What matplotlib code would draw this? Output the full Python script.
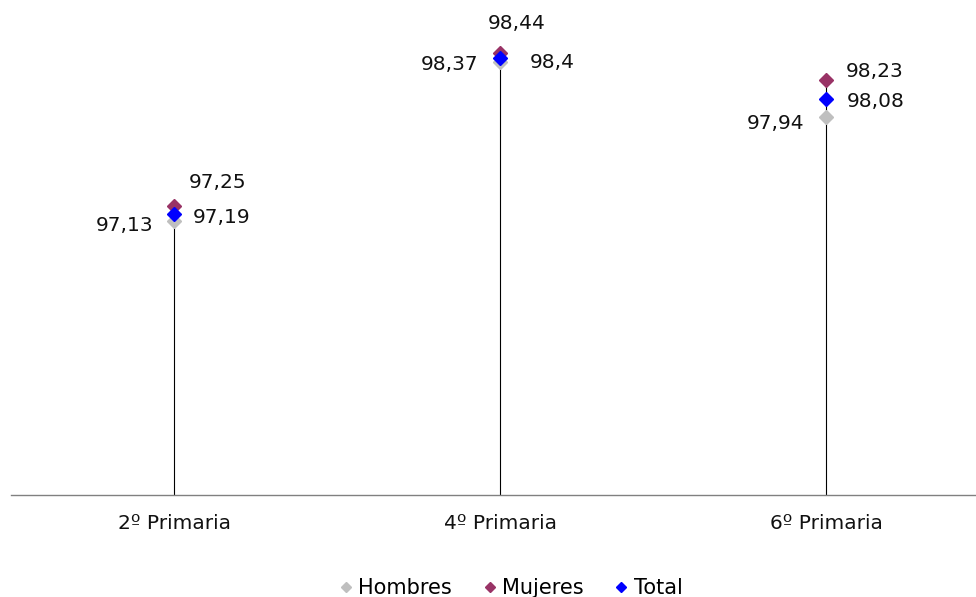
import matplotlib
matplotlib.use("Agg")
import matplotlib.pyplot as plt

categories = ["2º Primaria", "4º Primaria", "6º Primaria"]
hombres = [97.13, 98.37, 97.94]
mujeres = [97.25, 98.44, 98.23]
total = [97.19, 98.40, 98.08]
labels_h = ["97,13", "98,37", "97,94"]
labels_m = ["97,25", "98,44", "98,23"]
labels_t = ["97,19", "98,4", "98,08"]

# label offsets in pixels (style, not data)
off_h = [(-21, -4), (-22, -3), (-22, -6)]
off_m = [(44, 23), (17, 29), (49, 8)]
off_t = [(19, -4), (30, -4), (21, -2)]

plt.rcParams['font.family'] = ['DejaVu Sans']

fig = plt.figure(figsize=(9.76, 5.97), dpi=100)
W, H = 976, 597
ax = fig.add_axes([11 / W, (H - 495) / H, (989 - 11) / W, (495 + 19) / H])
x = list(range(len(categories)))

ax.set_xlim(-0.5, 2.5)
ax.set_ylim(95, 99)

tops = [max(a, b, c) for a, b, c in zip(hombres, mujeres, total)]
ax.vlines(x, 95, tops, color="black", linewidth=0.8, zorder=1)

ms = 7
ax.plot(x, hombres, linestyle="none", marker="D", ms=ms, color="#BFBFBF", label="Hombres", zorder=3)
ax.plot(x, mujeres, linestyle="none", marker="D", ms=ms, color="#993366", label="Mujeres", zorder=3)
ax.plot(x, total, linestyle="none", marker="D", ms=ms, color="#0000FF", label="Total", zorder=4)

fs = 14.5
for i in x:
    ax.annotate(labels_h[i], (i, hombres[i]), xytext=off_h[i], textcoords="offset pixels",
                ha="right", va="center", fontsize=fs, color="#111111")
    ax.annotate(labels_m[i], (i, mujeres[i]), xytext=off_m[i], textcoords="offset pixels",
                ha="center", va="center", fontsize=fs, color="#111111")
    ax.annotate(labels_t[i], (i, total[i]), xytext=off_t[i], textcoords="offset pixels",
                ha="left", va="center", fontsize=fs, color="#111111")

ax.set_xticks(x)
ax.set_xticklabels(categories, fontsize=14.5, color="#111111")
ax.tick_params(axis="x", length=0, pad=14)
ax.set_yticks([])
for s in ["top", "left", "right"]:
    ax.spines[s].set_visible(False)
ax.spines["bottom"].set_color("#808080")
ax.spines["bottom"].set_linewidth(1.0)

fig.legend(loc="center", bbox_to_anchor=(509 / W, 1 - 588 / H), ncol=3, frameon=False,
           fontsize=15, handletextpad=0.1, columnspacing=1.3, handlelength=1.0,
           markerscale=0.75)

fig.savefig("out.png", dpi=100)
